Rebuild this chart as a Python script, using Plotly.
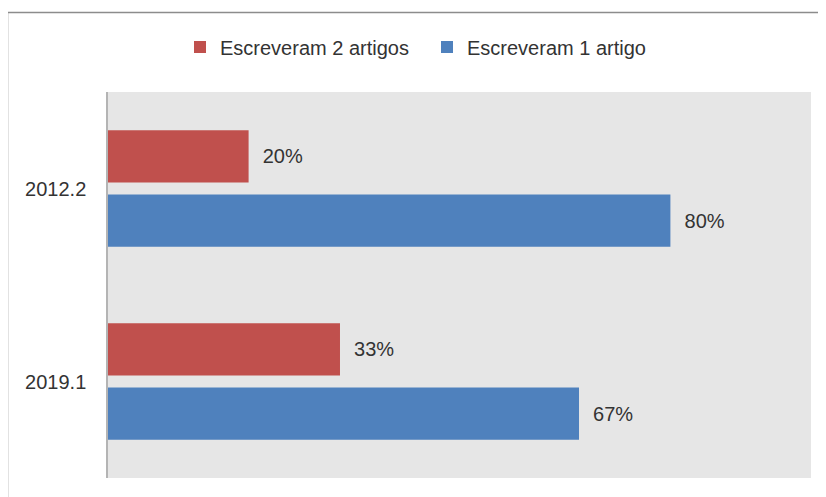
import plotly.graph_objects as go

categories = ["2012.2", "2019.1"]
series_names = ["Escreveram 2 artigos", "Escreveram 1 artigo"]
two_articles = [0.20, 0.33]
one_article = [0.80, 0.67]
colors = ["#C0504D", "#4F81BD"]

FONT = "Liberation Sans, Arial, sans-serif"
TXT = "#333333"

fig = go.Figure()
for name, vals, col in zip(series_names, [two_articles, one_article], colors):
    fig.add_trace(go.Bar(
        y=categories, x=vals, name=name, orientation="h",
        marker=dict(color=col, line=dict(width=0)),
        text=["\u00a0\u00a0" + f"{v:.0%}" for v in vals],
        textposition="outside", cliponaxis=False,
        textfont=dict(family=FONT, size=20, color=TXT),
    ))

# page offset (browser body margin)
OFF = 8
# plot area in screen pixels: x 108..811, y 92..478
L, R, T, B = 108 - OFF, 811 - OFF, 92 - OFF, 478 - OFF
W, H = 826, 497
pw, ph = R - L, B - T

def px_x(p):
    return (p - OFF - L) / pw

def px_y(p):
    return (B - (p - OFF)) / ph

fig.update_layout(
    width=W, height=H,
    margin=dict(l=L, r=W - R, t=T, b=H - B, autoexpand=False),
    paper_bgcolor="white", plot_bgcolor="#E6E6E6",
    barmode="group", bargap=0.335, bargroupgap=0.186,
    font=dict(family=FONT, size=20, color=TXT),
    showlegend=True,
    legend=dict(orientation="h", x=px_x(427), xanchor="center",
                y=px_y(47), yanchor="middle",
                font=dict(family=FONT, size=20, color=TXT),
                bgcolor="rgba(0,0,0,0)", entrywidth=202, entrywidthmode="pixels"),
    xaxis=dict(range=[0, 1], showticklabels=False, showgrid=False,
               zeroline=False, showline=False, ticks=""),
    yaxis=dict(autorange="reversed", showgrid=False, zeroline=False,
               showline=True, linecolor="#B4B4B4", linewidth=1.5,
               ticks="", ticklabelstandoff=16,
               tickfont=dict(family=FONT, size=20, color=TXT)),
    shapes=[dict(type="rect", xref="paper", yref="paper",
                 x0=px_x(7.5), x1=px_x(850), y0=px_y(520), y1=px_y(12.5),
                 line=dict(color="#8C8C8C", width=1.5), fillcolor="rgba(0,0,0,0)",
                 layer="below")],
)

fig.write_html("out.html")
